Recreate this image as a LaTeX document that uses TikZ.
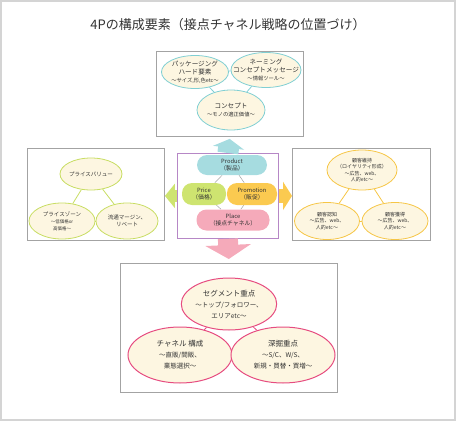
\documentclass[tikz,border=0pt]{standalone}
\usepackage{fontspec}
\setmainfont{Noto Sans CJK JP}
\usepackage{tikz}
\usetikzlibrary{positioning, arrows.meta, shapes.geometric, backgrounds}
\definecolor{frame}{HTML}{D4D4D4}
\definecolor{boxline}{HTML}{A3A3A3}
\definecolor{cream}{HTML}{FDF6E1}
\definecolor{teal}{HTML}{80CFD3}
\definecolor{tealfill}{HTML}{A6DCE0}
\definecolor{lime}{HTML}{C8DD62}
\definecolor{limefill}{HTML}{CEE470}
\definecolor{amber}{HTML}{F6C646}
\definecolor{amberfill}{HTML}{FBCA50}
\definecolor{rose}{HTML}{E64C80}
\definecolor{rosefill}{HTML}{F5AABA}
\definecolor{violet}{HTML}{B687C6}
\definecolor{ink}{HTML}{333333}
\newcommand{\subtxt}[1]{{\fontsize{5.3}{6.3}\selectfont #1}}

\begin{document}
\begin{tikzpicture}[x=1pt, y=-1pt,
    every node/.style={font=\fontsize{6.6}{8}\selectfont, text=ink},
    box/.style={rectangle, draw=boxline, line width=0.9pt, anchor=north west},
    ell/.style={ellipse, draw, line width=0.8pt, fill=cream, inner sep=0pt,
      align=center},
    pill/.style={rectangle, rounded corners=10pt, inner sep=0pt, align=center,
      minimum height=21pt, font=\fontsize{5.8}{6.8}\selectfont},
    link/.style={line width=0.8pt}]

  \useasboundingbox (0,0) rectangle (456,421);
  \draw[frame, line width=2.4pt] (1.2,1.2) rectangle (454.8,419.8);

  \node[font=\fontsize{13}{15}\selectfont] (Title) at (228,25)
    {4Pの構成要素（接点チャネル戦略の位置づけ）};

  % frames
  \node[box, minimum width=147pt, minimum height=85pt] (Top) at (156,51) {};
  \node[box, minimum width=137pt, minimum height=92pt] (Left) at (27,148) {};
  \node[box, minimum width=138pt, minimum height=92pt] (Right) at (292,148) {};
  \node[box, minimum width=217pt, minimum height=129pt] (Bottom) at (120,263) {};
  \node[box, draw=violet, line width=0.8pt, minimum width=101pt,
    minimum height=85pt] (Core) at (177,153) {};

  % product side
  \node[ell, draw=teal, minimum width=67pt, minimum height=33pt] (Pkg) at (195,72)
    {パッケージング\\ハード要素\\\subtxt{～サイズ,形,色etc～}};
  \node[ell, draw=teal, inner xsep=-12pt, minimum width=70pt,
    minimum height=35pt] (Nam) at (266,70)
    {ネーミング\\コンセプトメッセージ\\\subtxt{～情報ツール～}};
  \node[ell, draw=teal, minimum width=68pt, minimum height=40pt] (Con) at (231,110)
    {コンセプト\\\subtxt{～モノの適正価値～}};

  % price side
  \node[ell, draw=lime, minimum width=58pt, minimum height=32pt,
    font=\fontsize{5.5}{7}\selectfont] (PVal) at (91,174) {プライスバリュー};
  \node[ell, draw=lime, minimum width=66pt, minimum height=36pt,
    font=\fontsize{5.5}{7}\selectfont] (PZone) at (62,221)
    {プライスゾーン\\{\fontsize{4.5}{5.5}\selectfont ～低価格or}\\
     {\fontsize{4.5}{5.5}\selectfont 高価格～}};
  \node[ell, draw=lime, minimum width=62pt, minimum height=36pt,
    font=\fontsize{5.5}{7}\selectfont] (Marg) at (127,221)
    {流通マージン、\\リベート};

  % promotion side
  \node[ell, draw=amber, minimum width=69pt, minimum height=40pt,
    font=\fontsize{5}{6.2}\selectfont] (Keep) at (362,170)
    {顧客維持\\（ロイヤリティ形成）\\～広告、web、\\人的etc～};
  \node[ell, draw=amber, minimum width=65pt, minimum height=37pt,
    font=\fontsize{5}{6.2}\selectfont] (Aware) at (327,221)
    {顧客認知\\～広告、web、\\人的etc～};
  \node[ell, draw=amber, minimum width=66pt, minimum height=37pt,
    font=\fontsize{5}{6.2}\selectfont] (Gain) at (395,221)
    {顧客獲得\\～広告、web、\\人的etc～};

  % place side
  \node[ell, draw=rose, line width=1pt, minimum width=95pt, minimum height=52pt,
    font=\fontsize{7.5}{11}\selectfont] (Seg) at (229,304)
    {セグメント重点\\{\fontsize{6.5}{8.5}\selectfont ～トップ/フォロワー、}\\
     {\fontsize{6.5}{8.5}\selectfont エリアetc～}};
  \node[ell, draw=rose, line width=1pt, minimum width=104pt, minimum height=56pt,
    font=\fontsize{7.5}{11}\selectfont] (Chan) at (180,355)
    {チャネル 構成\\{\fontsize{6.5}{8.5}\selectfont ～直販/間販、}\\
     {\fontsize{6.5}{8.5}\selectfont 業態選択～}};
  \node[ell, draw=rose, line width=1pt, minimum width=104pt, minimum height=56pt,
    font=\fontsize{7.5}{11}\selectfont] (Dig) at (283,355)
    {深掘重点\\{\fontsize{6.5}{8.5}\selectfont ～S/C、W/S、}\\
     {\fontsize{6.5}{8.5}\selectfont 新規・買替・買増～}};

  % 4P core
  \node[pill, fill=tealfill, minimum width=70pt, minimum height=20pt] (Product)
    at (232,165) {Product\\（製品）};
  \node[pill, fill=limefill, minimum width=44pt, minimum height=22pt] (Price)
    at (204,194) {Price\\（価格）};
  \node[pill, fill=amberfill, minimum width=50pt, minimum height=22pt] (Promo)
    at (252,194) {Promotion\\（販促）};
  \node[pill, fill=rosefill, minimum width=73pt] (Place) at (233,220)
    {Place\\（接点チャネル）};

  \begin{scope}[on background layer]
    \draw[link, teal] (Pkg) -- (Nam);
    \draw[link, teal] (Pkg) -- (Con);
    \draw[link, teal] (Nam) -- (Con);
    \draw[link, lime] (PVal) -- (PZone);
    \draw[link, lime] (PVal) -- (Marg);
    \draw[link, lime] (PZone) -- (Marg);
    \draw[link, amber] (Keep) -- (Aware);
    \draw[link, amber] (Keep) -- (Gain);
    \draw[link, amber] (Aware) -- (Gain);
    \draw[link, rose] (Seg) -- (Chan);
    \draw[link, rose] (Seg) -- (Dig);
    \draw[link, rose] (Chan) -- (Dig);
    \draw[line width=0.5pt, boxline] (Product) -- (Price);
    \draw[line width=0.5pt, boxline] (Product) -- (Promo);
    \draw[line width=0.5pt, boxline] (Price) -- (Place);
    \draw[line width=0.5pt, boxline] (Promo) -- (Place);
  \end{scope}

  % block arrows
  \draw[-{Triangle[length=9pt, width=31pt]}, line width=21pt, tealfill,
    shorten >=2pt] (Core.north) -- (Top.south);
  \draw[-{Triangle[length=14pt, width=45pt]}, line width=20pt, rosefill,
    shorten >=4pt] (Core.south) -- (Bottom.north);
  \draw[-{Triangle[length=10pt, width=24pt]}, line width=12pt, limefill]
    (Core.west) -- (Core.west -| Left.east);
  \draw[-{Triangle[length=9pt, width=28pt]}, line width=14pt, amberfill]
    (Core.east) -- (Core.east -| Right.west);
\end{tikzpicture}
\end{document}
